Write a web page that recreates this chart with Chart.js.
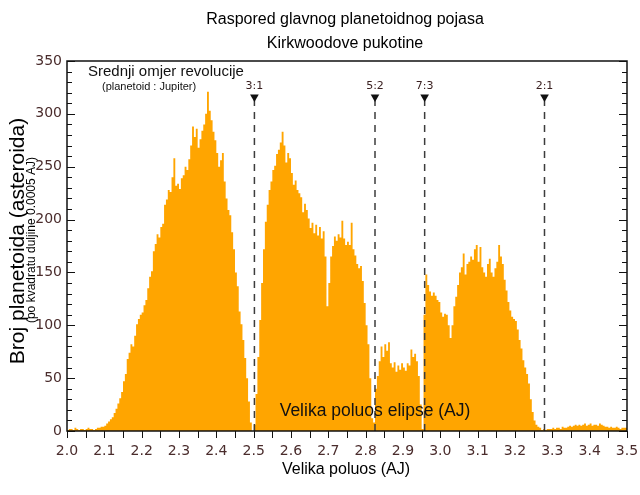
<!DOCTYPE html>
<html>
<head>
<meta charset="utf-8">
<title>Kirkwoodove pukotine</title>
<script src="https://cdn.jsdelivr.net/npm/chart.js@4.4.0/dist/chart.umd.min.js"></script>
<style>
    html, body { margin: 0; padding: 0; background: #fff; }
</style>
</head>
<body>
<canvas id="beltChart" width="640" height="495"></canvas>
<script>
// Histogram bins: 0.005 AJ wide, starting at 2.0 AJ
const BIN_START = 2.0;
const BIN_WIDTH = 0.005;

// 2.0 - 2.5 AJ
const innerBelt = [
    2, 1, 2, 2, 1, 3, 2, 1, 2, 2, 1, 2, 3, 2, 2, 1, 2, 3, 3, 4,
    4, 5, 7, 9, 11, 13, 17, 21, 26, 31, 37, 47, 54, 68, 74, 82, 80, 90, 101, 106,
    110, 112, 119, 124, 135, 146, 151, 170, 177, 186, 183, 193, 196, 214, 219, 228, 226, 240, 258, 232,
    234, 229, 239, 242, 250, 247, 257, 270, 288, 278, 286, 268, 276, 284, 290, 300, 321, 303, 294, 283,
    275, 263, 250, 256, 263, 236, 220, 209, 204, 188, 172, 150, 137, 113, 101, 86, 69, 50, 28, 8
];
// 2.5 - 2.8 AJ
const middleBelt = [
    0, 6, 35, 70, 105, 140, 172, 198, 214, 228, 236, 247, 251, 262, 266, 273, 283, 270, 254, 263,
    258, 244, 233, 237, 228, 225, 221, 207, 215, 209, 201, 192, 197, 187, 195, 185, 193, 182, 189, 165,
    118, 140, 165, 175, 184, 180, 186, 183, 199, 182, 176, 179, 176, 197, 172, 166, 158, 154, 156, 142
];
// 2.8 - 3.0 AJ
const pristineZone = [
    121, 100, 82, 50, 12, 8, 40, 52, 66, 80, 70, 82, 76, 84, 64, 60, 65, 56, 62, 58,
    64, 60, 57, 64, 62, 77, 70, 73, 66, 52, 25, 2, 110, 148, 138, 132, 128, 131, 128, 124
];
// 3.0 - 3.3 AJ
const outerBelt = [
    122, 112, 108, 111, 110, 100, 88, 100, 118, 127, 138, 150, 155, 168, 148, 158, 160, 165, 162, 172,
    176, 160, 174, 155, 150, 146, 158, 163, 150, 146, 154, 160, 176, 165, 158, 143, 133, 122, 114, 108,
    106, 104, 96, 86, 78, 67, 60, 54, 45, 30, 18, 10, 6, 4, 3, 1, 2, 1, 2, 2
];
// 3.3 - 3.5 AJ
const beyondGap = [
    2, 3, 2, 3, 3, 2, 4, 3, 3, 4, 5, 4, 5, 6, 5, 6, 5, 6, 7, 5,
    6, 7, 5, 6, 6, 5, 7, 6, 5, 4, 4, 3, 4, 3, 3, 4, 3, 2, 3, 3
];

// Kirkwood resonances (planetoid : Jupiter)
const resonanceLabels = ['3:1', '5:2', '7:3', '2:1'];
const resonanceAU = [2.502, 2.825, 2.958, 3.279];
const MARKER_LEVEL = 316;

const ORANGE = '#FFA500';
const TICK_COLOR = '#4a2c2c';

const counts = [...innerBelt, ...middleBelt, ...pristineZone, ...outerBelt, ...beyondGap];
const histogramPoints = counts.map((c, i) => ({ x: BIN_START + i * BIN_WIDTH, y: c }));
histogramPoints.push({ x: BIN_START + counts.length * BIN_WIDTH, y: counts[counts.length - 1] });

// Texts, frame and inward ticks
const overlay = {
    id: 'overlay',
    afterDatasetsDraw(chart) {
        const { ctx, chartArea: a, scales: { x, y } } = chart;
        ctx.save();

        // resonance labels
        ctx.fillStyle = '#3a2020';
        ctx.font = '11px "DejaVu Sans"';
        ctx.textAlign = 'center';
        ctx.textBaseline = 'middle';
        resonanceLabels.forEach((lbl, i) => {
            ctx.fillText(lbl, x.getPixelForValue(resonanceAU[i]), 86);
        });

        ctx.fillStyle = '#111';
        ctx.font = '17.5px "Liberation Sans"';
        ctx.fillText('Velika poluos elipse (AJ)', 375, 411);

        ctx.textAlign = 'left';
        ctx.font = '15px "Liberation Sans"';
        ctx.fillText('Srednji omjer revolucije', 88, 72);
        ctx.font = '11px "Liberation Sans"';
        ctx.fillText('(planetoid : Jupiter)', 102, 87);

        // frame
        ctx.strokeStyle = '#111';
        ctx.lineWidth = 1.5;
        ctx.strokeRect(a.left, a.top, a.right - a.left, a.bottom - a.top);

        // y ticks, pointing inward on both sides
        ctx.lineWidth = 1;
        ctx.beginPath();
        for (let v = 0; v <= 350; v += 10) {
            const py = Math.round(y.getPixelForValue(v)) + 0.5;
            const len = v % 50 === 0 ? 8 : 5;
            ctx.moveTo(a.left, py); ctx.lineTo(a.left + len, py);
            ctx.moveTo(a.right, py); ctx.lineTo(a.right - len, py);
        }
        // x ticks, below the axis
        for (let k = 0; k <= 30; k++) {
            const px = Math.round(x.getPixelForValue(2.0 + k * 0.05)) + 0.5;
            ctx.moveTo(px, a.bottom); ctx.lineTo(px, a.bottom + 7);
        }
        ctx.stroke();

        // titles
        ctx.fillStyle = '#000';
        ctx.textAlign = 'center';
        ctx.font = '16px "Liberation Sans"';
        ctx.fillText('Raspored glavnog planetoidnog pojasa', 345, 20);
        ctx.fillText('Kirkwoodove pukotine', 345, 44);
        ctx.fillText('Velika poluos (AJ)', 346, 470);

        // y axis titles
        ctx.save();
        ctx.translate(24, 241);
        ctx.rotate(-Math.PI / 2);
        ctx.textBaseline = 'alphabetic';
        ctx.font = '21px "Liberation Sans"';
        ctx.fillText('Broj planetoida (asteroida)', 0, 0);
        ctx.restore();

        ctx.save();
        ctx.translate(35, 240);
        ctx.rotate(-Math.PI / 2);
        ctx.textBaseline = 'alphabetic';
        ctx.font = '12px "Liberation Sans"';
        ctx.fillText('(po kvadratu duljine 0.0005 AJ)', 0, 0);
        ctx.restore();

        ctx.restore();
    }
};

const ctx = document.getElementById('beltChart').getContext('2d');

new Chart(ctx, {
    type: 'line',
    data: {
        datasets: [
            {
                type: 'scatter',
                data: resonanceAU.map(r => ({ x: r, y: MARKER_LEVEL })),
                pointStyle: 'triangle',
                rotation: 180,
                pointRadius: 5,
                backgroundColor: '#111',
                borderColor: '#111',
                borderWidth: 0,
                order: 0
            },
            ...resonanceAU.map(r => ({
                data: [{ x: r, y: 0 }, { x: r, y: MARKER_LEVEL }],
                borderColor: '#3c3c3c',
                borderWidth: 1.5,
                borderDash: [7, 6],
                pointRadius: 0,
                fill: false,
                order: 1
            })),
            {
                data: histogramPoints,
                stepped: 'after',
                fill: 'origin',
                backgroundColor: ORANGE,
                borderColor: ORANGE,
                borderWidth: 0,
                pointRadius: 0,
                order: 5
            }
        ]
    },
    options: {
        responsive: false,
        animation: false,
        events: [],
        layout: { padding: { top: 61, right: 13, left: 0, bottom: 0 } },
        plugins: {
            legend: { display: false },
            tooltip: { enabled: false }
        },
        scales: {
            x: {
                type: 'linear',
                min: 2.0,
                max: 3.5,
                grid: { display: false, drawTicks: false },
                border: { display: false },
                ticks: {
                    stepSize: 0.1,
                    autoSkip: false,
                    maxRotation: 0,
                    padding: 12,
                    color: TICK_COLOR,
                    font: { family: 'DejaVu Sans', size: 14 },
                    callback: v => v.toFixed(1)
                },
                afterFit(scale) {
                    scale.height = 64;
                    scale.paddingLeft = 0;
                    scale.paddingRight = 0;
                }
            },
            y: {
                min: 0,
                max: 350,
                grid: { display: false, drawTicks: false },
                border: { display: false },
                ticks: {
                    stepSize: 50,
                    padding: 5,
                    color: TICK_COLOR,
                    font: { family: 'DejaVu Sans', size: 14 }
                },
                afterFit(scale) { scale.width = 67; }
            }
        }
    },
    plugins: [overlay]
});
</script>
</body>
</html>
